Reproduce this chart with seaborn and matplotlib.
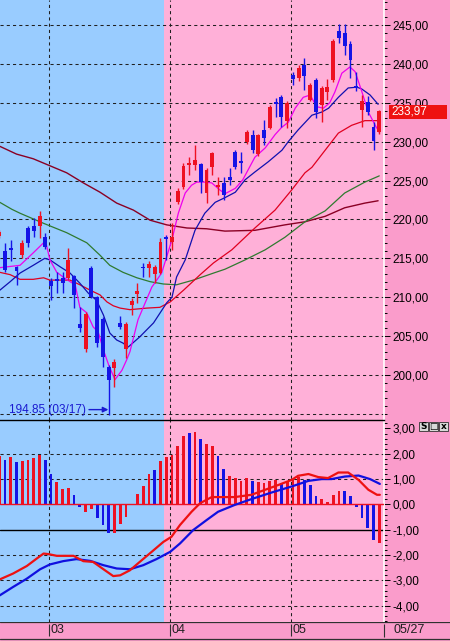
import numpy as np
import pandas as pd
import matplotlib
matplotlib.use("Agg")
import matplotlib.pyplot as plt
import seaborn as sns
from matplotlib.patches import Rectangle
from matplotlib.ticker import MultipleLocator, FixedLocator, FuncFormatter

sns.set_style("white")
plt.rcParams['font.family'] = ['Liberation Sans', 'DejaVu Sans']

# ---------------- data ----------------
opens = [217.9, 215.9, 216.3, 213.9, 215.4, 218.9, 219.2, 219.2, 217.7, 212.1,
         212.3, 212.5, 212.5, 212.7, 206.6, 203.3, 213.8, 210.0, 207.2, 201.0,
         200.9, 206.7, 203.3, 209.0, 210.4, 213.9, 213.8, 213.0, 213.1, 217.8,
         217.1, 222.2, 224.2, 227.0, 227.0, 227.1, 223.4, 226.7, 224.2, 224.7,
         225.5, 228.7, 227.5, 230.0, 230.9, 228.4, 231.5, 231.8, 235.1, 235.7,
         232.7, 238.6, 238.2, 239.9, 235.4, 237.9, 234.7, 236.4, 237.9, 244.2,
         244.0, 242.6, 237.2, 234.1, 235.1, 231.9, 231.2]
closes = [218.4, 213.5, 216.1, 213.4, 217.0, 217.0, 218.5, 220.4, 216.5, 211.4,
          212.1, 211.8, 214.8, 210.3, 206.0, 207.8, 210.0, 204.1, 202.3, 199.4,
          201.7, 206.2, 206.6, 209.5, 210.8, 213.7, 214.3, 213.9, 217.1, 217.5,
          217.7, 223.7, 226.9, 227.3, 227.6, 224.8, 226.4, 228.5, 224.4, 223.1,
          225.1, 226.7, 227.2, 231.2, 228.9, 230.8, 230.5, 234.5, 234.8, 233.2,
          235.0, 238.1, 239.5, 238.4, 237.3, 233.8, 236.9, 237.0, 242.9, 243.3,
          242.3, 240.5, 236.9, 235.2, 233.8, 230.1, 233.97]
highs = [218.6, 217.0, 217.3, 214.0, 217.3, 219.1, 220.2, 221.1, 218.3, 212.5,
         213.2, 213.2, 216.3, 212.9, 208.7, 208.1, 214.0, 210.2, 207.4, 201.3,
         202.0, 207.6, 206.8, 209.9, 211.8, 214.4, 214.6, 214.2, 217.6, 218.0,
         219.5, 224.0, 227.3, 228.0, 229.6, 227.3, 226.6, 228.7, 225.5, 225.4,
         226.6, 228.9, 228.7, 231.5, 231.5, 231.0, 232.8, 234.7, 235.6, 236.0,
         235.2, 238.9, 239.9, 240.8, 237.6, 238.2, 237.1, 238.0, 243.2, 245.1,
         245.1, 243.0, 239.0, 236.0, 235.9, 232.5, 234.1]
lows = [217.6, 213.2, 214.6, 211.6, 215.0, 216.5, 217.8, 217.6, 216.2, 209.6,
        210.5, 210.5, 212.2, 208.6, 205.5, 202.9, 209.9, 203.6, 201.0, 194.85,
        198.5, 205.9, 202.2, 207.7, 209.3, 212.6, 212.6, 211.8, 213.0, 214.8,
        216.1, 222.0, 223.9, 225.7, 226.4, 223.4, 222.1, 225.7, 223.2, 222.5,
        224.4, 226.5, 226.0, 229.7, 228.5, 228.2, 229.6, 231.6, 233.2, 231.9,
        231.8, 237.3, 237.8, 236.6, 235.2, 233.0, 232.5, 235.3, 237.7, 242.7,
        241.1, 238.2, 236.5, 231.9, 233.4, 228.9, 231.0]

ma5_idx = [0.1, 3.6, 5.9, 7.7, 8.2, 8.8, 10.0, 11.1, 12.3, 13.2, 14.0, 15.2, 16.3, 17.2,
           18.1, 19.0, 20.1, 21.3, 22.1, 22.7, 24.1, 26.5, 28.2, 30.0, 31.1, 32.3, 33.4,
           34.3, 35.7, 36.9, 38.3, 39.2, 41.0, 42.3, 44.4, 46.2, 47.9, 49.0, 50.2, 51.4,
           52.8, 54.0, 55.1, 56.3, 57.4, 58.3, 59.5, 60.9, 61.8, 62.9, 64.1, 65.3, 66.0]
ma5_val = [213.8, 214.1, 215.7, 217.0, 216.7, 214.8, 213.2, 212.6, 212.0, 211.6, 208.7,
           208.0, 206.2, 205.5, 203.2, 201.3, 199.4, 200.6, 201.9, 203.0, 207.1, 211.3,
           213.1, 217.4, 220.8, 223.4, 224.4, 224.8, 224.8, 224.7, 223.8, 223.3, 224.0,
           225.1, 228.0, 229.2, 230.9, 231.8, 232.5, 234.3, 235.7, 236.0, 234.5, 234.3,
           235.0, 236.4, 238.8, 239.6, 239.0, 236.6, 233.8, 232.1, 231.2]

ma10_idx = [0.1, 1.9, 3.6, 5.9, 7.9, 8.8, 10.6, 12.3, 14.0, 15.5, 16.9, 18.1, 19.2, 20.4,
            21.5, 22.4, 24.4, 26.8, 29.1, 30.0, 30.8, 32.3, 34.0, 35.7, 37.5, 39.2, 41.0,
            42.7, 44.4, 46.7, 49.1, 50.2, 51.9, 54.3, 56.0, 57.2, 58.9, 60.6, 62.1, 62.9,
            64.4, 65.8]
ma10_val = [210.9, 212.0, 213.1, 214.1, 215.0, 214.8, 213.9, 213.1, 211.8, 210.5, 209.6,
            207.7, 205.4, 204.5, 204.1, 203.6, 204.9, 206.7, 209.3, 210.0, 212.6, 214.8,
            218.6, 220.8, 222.2, 222.8, 223.5, 225.1, 226.1, 227.4, 228.9, 230.0, 231.5,
            233.4, 233.8, 234.3, 235.7, 236.9, 237.0, 236.8, 236.0, 234.8]

ma20_idx = [0.1, 1.9, 3.6, 5.9, 7.7, 8.8, 10.6, 12.3, 14.0, 15.8, 17.5, 18.7, 19.8, 21.0,
            22.7, 25.6, 27.9, 29.7, 32.0, 34.9, 37.2, 40.4, 44.4, 47.9, 50.8, 53.1, 54.3,
            56.6, 58.9, 61.2, 63.5, 65.8]
ma20_val = [213.2, 212.9, 212.3, 212.3, 212.5, 212.2, 212.2, 212.2, 211.6, 210.9, 210.3,
            209.4, 208.9, 208.6, 208.4, 208.6, 208.7, 209.4, 210.9, 212.9, 214.4, 216.1,
            218.9, 221.2, 223.8, 226.0, 226.7, 228.9, 231.1, 232.1, 232.7, 232.7]

ma60_idx = [0.1, 2.2, 3.6, 7.7, 11.7, 15.2, 17.5, 19.2, 21.5, 23.9, 26.2, 28.5, 30.8, 33.7,
            37.2, 39.2, 42.7, 46.2, 49.6, 53.1, 56.6, 60.0, 63.5, 66.0]
ma60_val = [222.2, 221.3, 220.8, 219.5, 218.3, 217.0, 215.4, 214.1, 213.2, 212.5, 212.0,
            211.7, 211.6, 212.2, 213.1, 213.6, 214.8, 216.1, 217.7, 219.7, 221.1, 223.4,
            224.8, 225.6]

ma120_idx = [0.1, 3.0, 5.9, 8.8, 11.7, 14.6, 17.5, 20.4, 23.3, 26.2, 29.1, 32.6, 36.0, 39.2,
             44.4, 49.6, 53.1, 56.6, 60.0, 63.5, 65.8]
ma120_val = [229.4, 228.4, 227.8, 226.9, 226.0, 224.7, 223.5, 222.1, 221.2, 219.9, 219.3,
             218.9, 218.8, 218.5, 218.6, 219.3, 219.7, 220.4, 221.5, 222.1, 222.4]

hist = [1.92, 1.77, 1.86, 1.66, 1.72, 1.77, 1.85, 1.96, 1.77, 1.21,
        0.87, 0.62, 0.65, 0.38, -0.10, -0.28, -0.19, -0.52, -0.81, -1.14,
        -1.14, -0.79, -0.48, 0.03, 0.42, 0.71, 1.21, 1.37, 1.70, 1.86,
        1.96, 2.29, 2.69, 2.82, 2.85, 2.59, 2.40, 2.32, 1.90, 1.41,
        1.12, 1.05, 0.92, 1.04, 0.93, 0.90, 0.86, 0.94, 0.97, 0.84,
        0.90, 1.00, 1.10, 0.97, 0.77, 0.34, 0.21, 0.10, 0.36, 0.54,
        0.54, 0.35, -0.10, -0.55, -0.92, -1.42, -1.52]
hist_dir = ("rbrbrrrrbb" "rrrbbrrbbb" "rrrrrrrbrr" "rrrbrbrrbb"
            "rrrrbrrrrb" "rrrbbbrrrr" "bbbbbbr")

macd_idx = [0.1, 2.4, 4.8, 6.5, 7.7, 8.5, 10.0, 12.9, 14.6, 16.3, 18.1, 19.8, 21.0, 22.7,
            24.4, 26.8, 28.5, 29.9, 31.4, 33.4, 34.9, 36.9, 40.9, 43.8, 46.2, 48.5, 50.8,
            51.9, 53.7, 55.4, 57.1, 58.9, 60.6, 62.4, 64.1, 65.6, 66.1]
macd_val = [-2.96, -2.73, -2.43, -2.14, -1.94, -1.96, -2.03, -2.03, -2.24, -2.27, -2.56,
            -2.83, -2.80, -2.60, -2.27, -1.81, -1.48, -1.28, -0.81, -0.29, 0.05, 0.29, 0.29,
            0.38, 0.58, 0.77, 0.97, 1.13, 1.20, 1.08, 1.04, 1.26, 1.26, 0.97, 0.58, 0.38, 0.38]

signal_idx = [0.1, 2.4, 4.8, 7.1, 8.8, 11.1, 13.4, 15.8, 18.1, 20.4, 22.7, 25.0, 27.3, 29.7,
              31.4, 33.7, 36.0, 38.0, 40.9, 43.8, 47.3, 50.8, 53.7, 56.0, 57.7, 60.0, 62.4,
              64.4, 66.1]
signal_val = [-3.59, -3.26, -2.93, -2.56, -2.37, -2.24, -2.16, -2.23, -2.40, -2.53, -2.56,
              -2.40, -2.16, -1.87, -1.54, -1.01, -0.62, -0.29, -0.02, 0.21, 0.47, 0.71, 0.93,
              1.00, 1.00, 1.10, 1.14, 1.00, 0.81]

month_labels = ['03', '04', '05']
month_idx = [9, 30, 51]
last_date = '05/27'
low_idx = 19
low_text = '194.85 (03/17)'
price_ticks = [200, 205, 210, 215, 220, 225, 230, 235, 240, 245]
price_grid = [195, 200, 205, 210, 215, 220, 225, 230, 235, 240, 245]
macd_ticks = [-4, -3, -2, -1, 0, 1, 2, 3]

# ---------------- styling ----------------
BLUE_BG = '#99ccff'
PINK_BG = '#ffb0d8'
STRIP = '#fa9ccb'
RED = '#ee1122'
BLUE = '#1414e6'
FS = 8.5
W, H = 450, 641
PX0, STEP = -0.76, 5.758


def fig_rect(x0, y0, x1, y1):
    return [x0 / W, 1 - y1 / H, (x1 - x0) / W, (y1 - y0) / H]


def px_to_idx(px):
    return (px - PX0) / STEP


XL = (px_to_idx(0), px_to_idx(384))
BOUND = px_to_idx(164)
fmt = FuncFormatter(lambda v, _: f"{v:.2f}".replace('.', ','))
dash = (0, (3, 3))

fig = plt.figure(figsize=(4.5, 6.41), dpi=100, facecolor=STRIP)
ax1 = fig.add_axes(fig_rect(0, 0, 384, 419.5))
ax2 = fig.add_axes(fig_rect(0, 419.5, 384, 621.5))
ax3 = fig.add_axes(fig_rect(0, 621.5, 450, 641))

df = pd.DataFrame({'i': np.arange(len(opens)), 'o': opens, 'h': highs, 'l': lows, 'c': closes})
df['col'] = np.where(df['c'] >= df['o'], RED, BLUE)

for ax in (ax1, ax2):
    ax.set_facecolor(PINK_BG)
    ax.axvspan(XL[0] - 1, BOUND, color=BLUE_BG, zorder=0, lw=0)
    ax.set_xlim(*XL)
    for m in month_idx:
        ax.axvline(m - 0.3, color='#202020', lw=0.75, ls=dash, zorder=1)
    for s in ('left', 'top', 'bottom'):
        ax.spines[s].set_visible(False)
    ax.spines['right'].set_color('white')
    ax.spines['right'].set_linewidth(1.2)
    ax.set_xticks([])
    ax.yaxis.tick_right()
    ax.tick_params(axis='y', which='major', length=4.5, width=0.7, colors='black',
                   direction='out', pad=1.5, labelsize=FS)
    ax.tick_params(axis='y', which='minor', length=2.5, width=0.7, colors='black',
                   direction='out')
    ax.set_xlabel('')
    ax.set_ylabel('')

# ---- price panel ----
ax1.set_ylim(194.28, 248.21)
for p in price_grid:
    ax1.axhline(p, color='#202020', lw=0.75, ls=dash, zorder=1)
ax1.yaxis.set_major_locator(FixedLocator(price_ticks))
ax1.yaxis.set_minor_locator(MultipleLocator(1))
ax1.yaxis.set_major_formatter(fmt)

sns.lineplot(x=ma120_idx, y=ma120_val, ax=ax1, color='#8a0024', lw=1.0, estimator=None, sort=False, zorder=3)
sns.lineplot(x=ma60_idx, y=ma60_val, ax=ax1, color='#2f7a2f', lw=0.9, estimator=None, sort=False, zorder=3)
sns.lineplot(x=ma20_idx, y=ma20_val, ax=ax1, color='#e00020', lw=0.9, estimator=None, sort=False, zorder=3)
sns.lineplot(x=ma10_idx, y=ma10_val, ax=ax1, color='#1010b0', lw=0.9, estimator=None, sort=False, zorder=3)
sns.lineplot(x=ma5_idx, y=ma5_val, ax=ax1, color='#ee00ee', lw=0.9, estimator=None, sort=False, zorder=3)

ax1.vlines(df['i'], df['l'], df['h'], colors=df['col'], lw=1.0, zorder=4)
body_h = np.maximum((df['c'] - df['o']).abs(), 0.15)
ax1.bar(df['i'], body_h, bottom=np.minimum(df['o'], df['c']), width=0.68,
        color=df['col'], lw=0, zorder=5)

ly = 195.55
ax1.text(px_to_idx(9), ly, low_text, color='#1a1ad0', fontsize=FS, va='center', ha='left', zorder=6)
ax1.annotate('', xy=(low_idx - 0.05, ly), xytext=(px_to_idx(89), ly),
             arrowprops=dict(arrowstyle='-|>', color='#1a1ad0', lw=1.0, mutation_scale=8,
                             shrinkA=0, shrinkB=0), zorder=6)

# ---- MACD panel ----
ax2.set_ylim(-4.623, 3.353)
for v in (2, 1, -2, -3, -4):
    ax2.axhline(v, color='#202020', lw=0.75, ls=dash, zorder=1)
ax2.axhline(-1, color='black', lw=1.0, zorder=1)
ax2.spines['top'].set_visible(True)
ax2.spines['top'].set_color('black')
ax2.spines['top'].set_linewidth(1.0)
ax2.yaxis.set_major_locator(FixedLocator(macd_ticks))
ax2.yaxis.set_minor_locator(MultipleLocator(0.2))
ax2.yaxis.set_major_formatter(fmt)

hcol = [RED if d == 'r' else BLUE for d in hist_dir]
ax2.bar(np.arange(len(hist)), hist, width=0.48, color=hcol, lw=0, zorder=3)
ax2.axhline(0, color=RED, lw=1.0, zorder=3)
sns.lineplot(x=signal_idx, y=signal_val, ax=ax2, color='#1010e0', lw=1.6, estimator=None, sort=False, zorder=4)
sns.lineplot(x=macd_idx, y=macd_val, ax=ax2, color='#ee1111', lw=1.6, estimator=None, sort=False, zorder=5)

# ---- date strip ----
ax3.set_facecolor(STRIP)
ax3.set_xlim(px_to_idx(0), px_to_idx(450))
ax3.set_ylim(641, 621.5)
ax3.axis('off')
ax3.axhline(622.0, color='#303030', lw=0.9)
ax3.axhline(639.3, color='#303030', lw=0.9)
for m, lab in zip(month_idx, month_labels):
    ax3.vlines(m - 0.3, 624, 635.5, color='#303030', lw=0.8)
    ax3.text(m - 0.05, 630, lab, fontsize=FS + 0.5, va='center', ha='left', color='#202020')
ax3.vlines(px_to_idx(384.3), 624, 637, color='#303030', lw=0.8)
ax3.text(px_to_idx(393), 630, last_date, fontsize=FS + 0.5, va='center', ha='left', color='#202020')

# ---- last price box ----
fig.patches.append(Rectangle((389 / W, 1 - 118.5 / H), 58 / W, 13.5 / H, transform=fig.transFigure,
                             facecolor='#ee1111', edgecolor='none', zorder=10))
fig.text(391.5 / W, 1 - 111.8 / H, f"{closes[-1]:.2f}".replace('.', ','), color='white',
         fontsize=FS, va='center', ha='left', zorder=11)

# ---- small window buttons ----
for x0, ch in [(418.5, 'S'), (428.5, '\u25a1'), (438.5, 'x')]:
    fig.patches.append(Rectangle((x0 / W, 1 - 431 / H), 9.5 / W, 9.5 / H, transform=fig.transFigure,
                                 facecolor='#d8d8d8', edgecolor='#303030', lw=0.6, zorder=10))
    fig.text((x0 + 4.75) / W, 1 - 426.2 / H, ch, fontsize=6.5, fontweight='bold',
             ha='center', va='center', color='black', zorder=11,
             family=['DejaVu Sans'])

fig.savefig('out.png', dpi=100, facecolor=STRIP)
